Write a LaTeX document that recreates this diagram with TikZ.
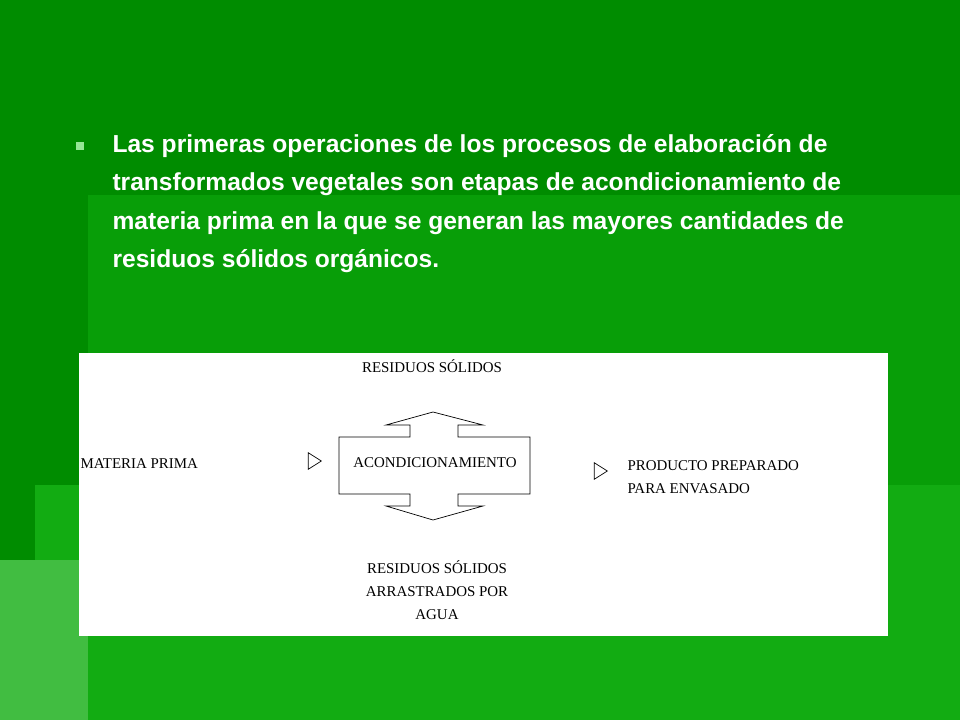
\documentclass[tikz,border=0pt]{standalone}
\usepackage{fontspec}
\setmainfont{Liberation Serif}
\newfontfamily\slidefont{Liberation Sans}
\usetikzlibrary{positioning, arrows.meta}
\definecolor{slidegreen}{RGB}{0,140,0}
\definecolor{panelgreen}{RGB}{8,158,8}
\definecolor{lowgreen}{RGB}{18,172,18}
\definecolor{bulletgreen}{RGB}{150,230,150}
\begin{document}
\begin{tikzpicture}[x=0.02cm, y=-0.02cm, semithick,
               lbl/.style ={font=\fontsize{8.5}{10}\selectfont, align=left, inner sep=0pt},
               dbl/.style ={double, double distance=4pt, -{Triangle[open, length=8pt, width=10pt]}}]

           % fondo
           \useasboundingbox (0,0) rectangle (960,720);
           \fill[slidegreen] (0,0) rectangle (960,720);
           \fill[panelgreen] (88,195) rectangle (960,720);
           \fill[lowgreen] (35,485) rectangle (960,720);
           \fill[lowgreen!80!white] (0,560) rectangle (88,720);

           % texto
           \node[fill=bulletgreen, minimum size=5pt, inner sep=0pt] (bullet) at (80,146) {};
           \node[anchor=north west, text=white, align=left, inner sep=0pt,
                 font=\slidefont\bfseries\fontsize{14}{21.8}\selectfont] (intro) at (112,134)
                 {Las primeras operaciones de los procesos de elaboración de\\
                  transformados vegetales son etapas de acondicionamiento de\\
                  materia prima en la que se generan las mayores cantidades de\\
                  residuos sólidos orgánicos.};

           % diagrama
           \fill[white] (79,353) rectangle (888,636);
           \draw[thin] (339,437) -- (410,437) -- (410,425) -- (386,425) -- (433,412) -- (483,425)
                -- (458,425) -- (458,437) -- (530,437) -- (530,494) -- (458,494) -- (458,506)
                -- (483,506) -- (433,520) -- (386,506) -- (410,506) -- (410,494) -- (339,494) -- cycle;

           \node[lbl] (acond) at (435,463) {ACONDICIONAMIENTO};
           \node[lbl, anchor=west] (mp) at (80,464) {MATERIA PRIMA};
           \node[lbl, anchor=west] (prod) at (627,477) {PRODUCTO PREPARADO\\[3pt]PARA ENVASADO};
           \node[lbl] (rtop) at (432,366) {RESIDUOS SÓLIDOS};
           \node[lbl, align=center] (rbot) at (437,590) {RESIDUOS SÓLIDOS\\[3pt]ARRASTRADOS POR\\[3pt]AGUA};

           \coordinate (inS) at (228,461);
           \coordinate (inL) at (322,461);
           \coordinate (outL) at (537,471);
           \coordinate (outR) at (608,471);

           \draw[dbl, thin] (inS) -- (inL);
           \draw[dbl, thin] (outL) -- (outR);

       \end{tikzpicture}
\end{document}
